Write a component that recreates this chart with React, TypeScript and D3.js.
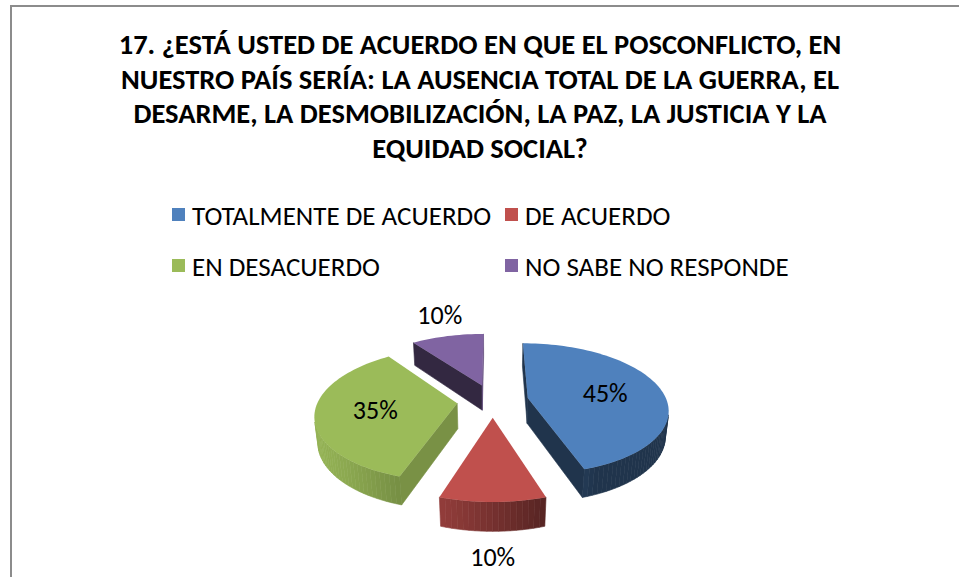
import { useMemo } from "react";
import * as d3 from "d3";

// datos de la gráfica
const titleLines = [
  "17. ¿ESTÁ USTED DE ACUERDO EN QUE EL POSCONFLICTO, EN",
  "NUESTRO PAÍS SERÍA: LA AUSENCIA TOTAL DE LA GUERRA, EL",
  "DESARME, LA DESMOBILIZACIÓN, LA PAZ, LA JUSTICIA Y LA",
  "EQUIDAD SOCIAL?",
];
const categories = [
  "TOTALMENTE DE ACUERDO",
  "DE ACUERDO",
  "EN DESACUERDO",
  "NO SABE NO RESPONDE",
];
const values = [45, 10, 35, 10];
const colors = ["#4f81bd", "#c0504d", "#9bbb59", "#8064a2"];

const WIDTH = 959;
const HEIGHT = 577;
const FONT = "Calibri, Carlito, 'Liberation Sans', Arial, sans-serif";

// vista 3D (tipo Excel)
const TILT = (29.5 * Math.PI) / 180;
const DIST = 5.5;
const FOCAL = 750;
const DEPTH = 0.21;
const EXPLODE = 0.257;
const CX = 492.7;
const CY = 426;

const sinT = Math.sin(TILT);
const cosT = Math.cos(TILT);
const camera = [0, -DIST * cosT, DIST * sinT];

function project(x: number, y: number, z: number): [number, number] {
  const sy = y * sinT + z * cosT;
  const depth = DIST + y * cosT - z * sinT;
  return [CX + (FOCAL * x) / depth, CY - (FOCAL * sy) / depth];
}

function shade(color: string, f: number) {
  const c = d3.rgb(color);
  return d3.rgb(c.r * f, c.g * f, c.b * f).formatHex();
}

const sideLight = [-0.92, -0.39];
const cutLight = [0.98, -0.2];

function facing(center: number[], normal: number[]) {
  const v = [center[0] - camera[0], center[1] - camera[1], center[2] - camera[2]];
  return v[0] * normal[0] + v[1] * normal[1] + v[2] * normal[2] < 0;
}

type Face = { d: string; fill: string };

function App() {
  const total = d3.sum(values);

  const slices = useMemo(() => {
    const arcs = d3.pie<number>().sort(null).value((d) => d)(values);
    const line = d3.line();
    return arcs.map((a, i) => {
      const a0 = a.startAngle;
      const a1 = a.endAngle;
      const mid = (a0 + a1) / 2;
      const ox = EXPLODE * Math.sin(mid);
      const oy = EXPLODE * Math.cos(mid);
      const steps = Math.max(4, Math.ceil((a1 - a0) / (Math.PI / 90)));
      const angles = d3.range(steps + 1).map((k) => a0 + ((a1 - a0) * k) / steps);
      const rim = (t: number, z: number) => project(ox + Math.sin(t), oy + Math.cos(t), z);
      const faces: Face[] = [];

      // caras de corte
      const cuts = [
        { t: a0, n: [-Math.cos(a0), Math.sin(a0), 0] },
        { t: a1, n: [Math.cos(a1), -Math.sin(a1), 0] },
      ];
      cuts.forEach(({ t, n }) => {
        const c = [ox + Math.sin(t) / 2, oy + Math.cos(t) / 2, DEPTH / 2];
        if (!facing(c, n)) return;
        const dot = Math.max(0, n[0] * cutLight[0] + n[1] * cutLight[1]);
        const pts = [
          project(ox, oy, 0),
          project(ox, oy, DEPTH),
          rim(t, DEPTH),
          rim(t, 0),
        ];
        faces.push({ d: line(pts) + "Z", fill: shade(colors[i], 0.4 + 0.38 * dot) });
      });

      // lado exterior
      for (let k = 0; k < steps; k++) {
        const t0 = angles[k];
        const t1 = angles[k + 1];
        const tm = (t0 + t1) / 2;
        const n = [Math.sin(tm), Math.cos(tm), 0];
        const c = [ox + n[0], oy + n[1], DEPTH / 2];
        if (!facing(c, n)) continue;
        const dot = Math.max(0, n[0] * sideLight[0] + n[1] * sideLight[1]);
        const pts = [rim(t0, 0), rim(t1, 0), rim(t1, DEPTH), rim(t0, DEPTH)];
        faces.push({ d: line(pts) + "Z", fill: shade(colors[i], 0.4 + 0.55 * dot) });
      }

      // cara superior
      const top = [project(ox, oy, DEPTH), ...angles.map((t) => rim(t, DEPTH))];

      // etiqueta
      const pct = Math.round((a.data / total) * 100);
      let label: [number, number];
      if (pct < 15) {
        const far = Math.cos(mid) > 0;
        const anchor = project(ox + 1.05 * Math.sin(mid), oy + 1.05 * Math.cos(mid), far ? DEPTH : 0);
        label = [anchor[0] + 20 * Math.sin(mid), anchor[1] - 20 * Math.cos(mid)];
      } else {
        label = project(ox + 0.58 * Math.sin(mid), oy + 0.58 * Math.cos(mid), DEPTH);
      }

      return {
        i,
        order: oy,
        faces,
        top: line(top) + "Z",
        label,
        text: `${pct}%`,
      };
    });
  }, [total]);

  const drawOrder = [...slices].sort((p, q) => q.order - p.order);

  const legendCols = [172, 505];
  const legendRows = [215, 266];

  return (
    <svg
      width={WIDTH}
      height={HEIGHT}
      style={{ position: "absolute", left: 0, top: 0, background: "#fff" }}
      fontFamily={FONT}
    >
      <rect x={11} y={6} width={980} height={620} fill="#fff" stroke="#8c8c8c" strokeWidth={2} />

      {titleLines.map((t, i) => (
        <text
          key={i}
          x={480}
          y={54 + i * 34.7}
          textAnchor="middle"
          fontSize={28.5}
          fontWeight="bold"
          fill="#000"
        >
          {t}
        </text>
      ))}

      {categories.map((c, i) => {
        const x = legendCols[i % 2];
        const y = legendRows[Math.floor(i / 2)];
        return (
          <g key={c}>
            <rect x={x} y={y - 7} width={13} height={13} fill={colors[i]} />
            <text x={x + 20} y={y} dy="0.36em" fontSize={27} fill="#000">
              {c}
            </text>
          </g>
        );
      })}

      {drawOrder.map((s) => (
        <g key={s.i}>
          {s.faces.map((f, k) => (
            <path key={k} d={f.d} fill={f.fill} stroke={f.fill} strokeWidth={0.6} strokeLinejoin="round" />
          ))}
          <path d={s.top} fill={colors[s.i]} />
        </g>
      ))}

      {slices.map((s) => (
        <text
          key={s.i}
          x={s.label[0]}
          y={s.label[1]}
          dy="0.36em"
          textAnchor="middle"
          fontSize={26}
          fill="#000"
        >
          {s.text}
        </text>
      ))}
    </svg>
  );
}

export default App;
